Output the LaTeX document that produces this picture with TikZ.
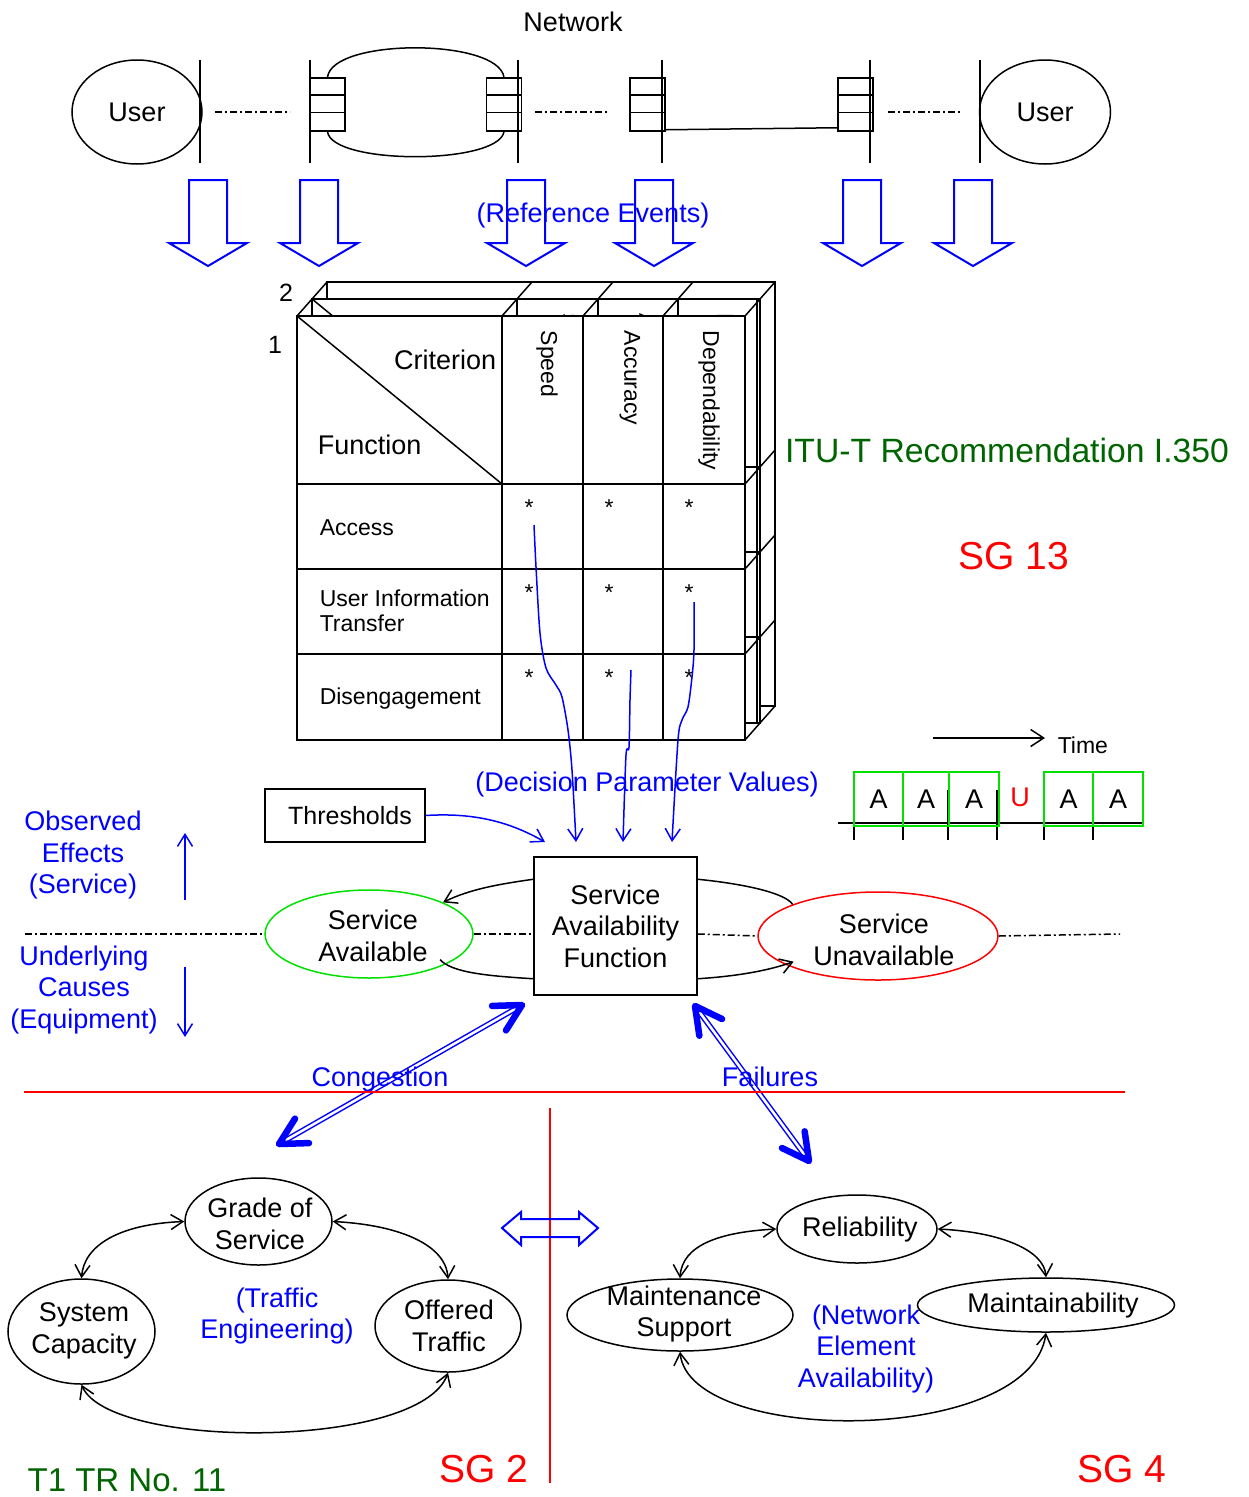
\documentclass[tikz,border=0pt]{standalone}
\usepackage{fontspec}
\setmainfont{Liberation Sans}
\usetikzlibrary{arrows.meta,shapes.geometric,calc}

\definecolor{ublue}{RGB}{0,0,255}
\definecolor{ured}{RGB}{255,0,0}
\definecolor{ugreen}{RGB}{0,225,0}
\definecolor{udkgreen}{RGB}{0,100,0}

\tikzset{
  txt/.style={inner sep=0pt, align=center, font=\fontsize{27}{31.5}\selectfont},
  smalltxt/.style={inner sep=0pt, align=left, font=\fontsize{23}{25}\selectfont},
  bigtxt/.style={inner sep=0pt, font=\fontsize{39}{44}\selectfont},
  ell/.style={ellipse, draw, line width=1.5pt, inner sep=0pt},
  swbox/.style={rectangle, draw, minimum width=35pt, minimum height=53pt, inner sep=0pt},
  dashdotline/.style={line width=1.5pt, dash pattern=on 7pt off 3pt on 2pt off 3pt},
  openarr/.style={-{Straight Barb[length=12pt,width=15pt]}},
  bothopen/.style={{Straight Barb[length=12pt,width=15pt]}-{Straight Barb[length=12pt,width=15pt]}},
  hollowarr/.style={draw=ublue, line width=2pt, line join=miter},
  dblshaft/.style={draw=ublue, line width=1.5pt, double=white, double distance=2.5pt},
  headbarb/.style={draw=ublue, line width=6.5pt, line cap=round, line join=round},
  tabfill/.style={fill=white, draw=black},
}

\begin{document}
\begin{tikzpicture}[x=1pt, y=-1pt, line width=1.5pt]
\fill[white] (0,0) rectangle (1248,1497);
\useasboundingbox (0,0) rectangle (1248,1497);

% ---------------- network at the top ----------------
\node[txt, anchor=base] (net) at (573,31) {Network};
\node[ell, txt, minimum width=130pt, minimum height=104pt] (userL) at (137,112) {User};
\node[ell, txt, minimum width=131pt, minimum height=104pt] (userR) at (1045,112) {User};

\foreach \x in {200,310,518,662,870,980} \draw (\x,60) -- (\x,163);

\node[swbox] (sw1) at (327.5,104.5) {};
\node[swbox] (sw2) at (504,104.5) {};
\node[swbox] (sw3) at (647.5,104.5) {};
\node[swbox] (sw4) at (855.5,104.5) {};
\foreach \s in {sw1,sw2,sw3,sw4} {
  \draw ($(\s.north west)+(0,17.5)$) -- ($(\s.north east)+(0,17.5)$);
  \draw ($(\s.north west)+(0,35)$) -- ($(\s.north east)+(0,35)$);
}
\draw (sw1.north) .. controls (332,38) and (498,38) .. (sw2.north);
\draw (sw1.south) .. controls (332,165) and (498,165) .. (sw2.south);
\draw ($(sw3.south east)+(0,-2)$) -- ($(sw4.south west)+(0,-4)$);

\draw[dashdotline] (215,112) -- (290,112);
\draw[dashdotline] (535,112) -- (608,112);
\draw[dashdotline] (888,112) -- (960,112);

% reference event arrows
\foreach \x in {208,319,526,654,862,973}
  \draw[hollowarr] (\x-19,180) -- (\x+19,180) -- (\x+19,243) -- (\x+39,243) -- (\x,266) -- (\x-39,243) -- (\x-19,243) -- cycle;
\node[txt, anchor=base, text=ublue] (refev) at (593,222) {(Reference Events)};

% ---------------- stacked table ----------------
\filldraw[tabfill] (327,282) rectangle (775,706);
\begin{scope}[shift={(15,-17)}]
  \filldraw[tabfill] (297,316) rectangle (745,740);
  \draw (297,316) -- (502,484);
  \foreach \c in {502,583,663} \draw (\c,316) -- (\c,740);
  \foreach \r in {484,569,654} \draw (297,\r) -- (745,\r);
  \draw (742,316) -- (742,740);
  \node[smalltxt, rotate=-90, anchor=west] (bspeed) at (552,330) {Speed};
  \node[smalltxt, rotate=-90, anchor=west] (bacc) at (630,330) {Accuracy};
  \node[smalltxt, rotate=-90, anchor=west] (bdep) at (708,330) {Dependability};
\end{scope}
\filldraw[tabfill] (297,316) rectangle (745,740);
\draw (297,316) -- (502,484);
\foreach \c in {502,583,663} \draw (\c,316) -- (\c,740);
\foreach \r in {484,569,654} \draw (297,\r) -- (745,\r);
\foreach \x/\y in {297/316,502/316,583/316,663/316,745/316,745/484,745/569,745/654,745/740}
  \draw (\x,\y) -- (\x+30,\y-34);

\node[txt, anchor=base, font=\fontsize{25}{30}\selectfont] (lay2) at (286,301) {2};
\node[txt, anchor=base, font=\fontsize{25}{30}\selectfont] (lay1) at (275,353) {1};
\node[txt, anchor=base east] (crit) at (497,369) {Criterion};
\node[txt, anchor=base west] (func) at (317,454) {Function};
\node[smalltxt, rotate=-90, anchor=west] (hspeed) at (547,330) {Speed};
\node[smalltxt, rotate=-90, anchor=west] (hacc) at (630,330) {Accuracy};
\node[smalltxt, rotate=-90, anchor=west] (hdep) at (709,330) {Dependability};
\node[smalltxt, anchor=base west] (racc) at (319,535) {Access};
\node[smalltxt, anchor=west] (ruit) at (319,611) {User Information\\Transfer};
\node[smalltxt, anchor=base west] (rdis) at (319,704) {Disengagement};
\foreach \r in {515,600,685}
  \foreach \c in {529,609,689}
    \node[smalltxt, anchor=base] (st-\c-\r) at (\c,\r) {*};

\node[inner sep=0pt, font=\fontsize{33.7}{38}\selectfont, text=udkgreen, anchor=base] (itu) at (1007,462) {ITU-T Recommendation I.350};
\node[bigtxt, text=ured, anchor=base] (sg13) at (1014,569) {SG 13};

% ---------------- availability function ----------------
\node[rectangle, draw, minimum width=160pt, minimum height=53pt, inner sep=0pt] (thr) at (345,815.5) {};
\node[inner sep=0pt, font=\fontsize{25}{30}\selectfont] (thrt) at (350,815.5) {Thresholds};
\node[rectangle, draw, minimum width=163pt, minimum height=138pt, txt] (saf) at (615.5,926) {Service\\Availability\\Function};
\node[ell, draw=ugreen, minimum width=208pt, minimum height=88pt] (sa) at (369,934) {};
\node[txt] (sat) at (373,936) {Service\\Available};
\node[ell, draw=ured, minimum width=240pt, minimum height=88pt] (su) at (878,936) {};
\node[txt] (sut) at (884,940) {Service\\Unavailable};

\node[txt, anchor=base, text=ublue] (dpv) at (647,791) {(Decision Parameter Values)};
\coordinate (dp1) at (576,842);
\coordinate (dp2) at (623,842);
\coordinate (dp3) at (672,842);
\draw[ublue, line width=1.5pt, openarr] plot[smooth, tension=0.5] coordinates {(534,525) (536,567) (540,633) (546,668) (556,685) (562,697) (568,730) (572,770) (dp1)};
\draw[ublue, line width=1.5pt, openarr] plot[smooth, tension=0.5] coordinates {(631,670) (630,700) (629,747) (626,755) (dp2)};
\draw[ublue, line width=1.5pt, openarr] plot[smooth, tension=0.5] coordinates {(694,602) (694,650) (692,677) (688,707) (682,720) (678,740) (dp3)};
\draw[ublue, line width=1.5pt, openarr] (thr.east) .. controls (480,812) and (515,825) .. (545,842);

\draw[dashdotline] (25,934) -- (sa.west);
\draw[dashdotline] (sa.east) -- (saf.west |- sa.east);
\draw[dashdotline] (saf.east |- sa.east) -- (su.west);
\draw[dashdotline] (su.east) -- (1120,934);

\draw[openarr] ([yshift=-23pt]saf.north west) .. controls (500,884) and (470,889) .. (sa.north east);
\draw ($(sa.south east)+(-3,-6)$) .. controls (452,973) and (490,976) .. ([yshift=17pt]saf.south west);
\draw ([yshift=-23pt]saf.north east) .. controls (745,884) and (785,893) .. (su.north west);
\draw[openarr] ([yshift=17pt]saf.south east) .. controls (740,976) and (770,970) .. ($(su.south west)+(1,-6)$);

% time line
\coordinate (t0) at (933,738);
\coordinate (t1) at (1045,738);
\draw[-{Straight Barb[length=13pt,width=17pt]}] (t0) -- (t1);
\node[smalltxt, anchor=base west] (time) at (1057,753) {Time};
\draw (838,823) -- (1143,823);
\foreach \x in {854,903,948,997,1044,1093} \draw (\x,790) -- (\x,840);
\foreach \a/\b/\n in {854/903/1,903/949/2,949/999/3,1044/1093/4,1093/1143/5}
  \node[draw=ugreen, line width=2pt, txt, minimum width=\b-\a, minimum height=54pt] (slot\n) at ({(\a+\b)/2},799) {A};
\node[txt, text=ured] (uslot) at (1020,797) {U};

% ---------------- effects / causes ----------------
\node[txt, text=ublue] (obs) at (83,855) {Observed\\Effects\\(Service)};
\node[txt, text=ublue] (und) at (84,990) {Underlying\\Causes\\(Equipment)};
\coordinate (up0) at (185,900);
\coordinate (up1) at (185,833);
\coordinate (dn0) at (185,967);
\coordinate (dn1) at (185,1037);
\draw[ublue, line width=1.5pt, openarr] (up0) -- (up1);
\draw[ublue, line width=1.5pt, openarr] (dn0) -- (dn1);

% congestion and failures
\coordinate (cgU) at (522,1005);
\coordinate (cgL) at (279,1144);
\coordinate (flU) at (695,1006);
\coordinate (flL) at (809,1161);
\draw[dblshaft] ($(cgU)!5pt!(cgL)$) -- ($(cgL)!5pt!(cgU)$);
\draw[dblshaft] ($(flU)!5pt!(flL)$) -- ($(flL)!5pt!(flU)$);
\foreach \p/\q in {cgU/cgL, cgL/cgU, flU/flL, flL/flU}
  \draw[headbarb] ($(\p)!30pt!28:(\q)$) -- (\p) -- ($(\p)!30pt!-28:(\q)$);
\node[txt, anchor=base, text=ublue] (cong) at (380,1086) {Congestion};
\node[txt, anchor=base, text=ublue] (fail) at (770,1086) {Failures};

\draw[ured, line width=1.5pt] (24,1092) -- (1125,1092);
\draw[ured, line width=1.5pt] (550,1108) -- (550,1483);

\draw[hollowarr] (502,1228) -- (521,1212) -- (521,1219) -- (579,1219) -- (579,1212) -- (598,1228) -- (579,1245) -- (579,1237) -- (521,1237) -- (521,1245) -- cycle;

% ---------------- traffic engineering ----------------
\node[ell, minimum width=147pt, minimum height=87pt] (gos) at (258.5,1221.5) {};
\node[txt] (gost) at (260,1224) {Grade of\\Service};
\node[ell, minimum width=147pt, minimum height=105pt] (sc) at (81.5,1331.5) {};
\node[txt] (sct) at (84,1331) {System\\Capacity};
\node[ell, minimum width=146pt, minimum height=92pt] (ot) at (448,1326) {};
\node[txt] (ott) at (449,1326) {Offered\\Traffic};
\node[txt, text=ublue] (te) at (277,1316) {(Traffic\\Engineering)};
\draw[bothopen] (sc.north) .. controls (84,1245) and (120,1224) .. (gos.west);
\draw[bothopen] (gos.east) .. controls (400,1225) and (446,1245) .. (ot.north);
\draw[bothopen] (sc.south) .. controls (110,1450) and (420,1450) .. (ot.south);

% ---------------- network element availability ----------------
\node[ell, minimum width=160pt, minimum height=68pt] (rel) at (857,1229) {};
\node[txt] (relt) at (860,1230) {Reliability};
\node[ell, minimum width=226pt, minimum height=72pt] (ms) at (680,1315) {};
\node[txt] (mst) at (684,1314) {Maintenance\\Support};
\node[ell, minimum width=257pt, minimum height=54pt] (mt) at (1046,1305) {};
\node[txt] (mtt) at (1053,1306) {Maintainability};
\node[txt, text=ublue] (nea) at (866,1349) {(Network\\Element\\Availability)};
\draw[bothopen] (ms.north) .. controls (682,1245) and (720,1232) .. (rel.west);
\draw[bothopen] (rel.east) .. controls (1000,1232) and (1044,1250) .. (mt.north);
\draw[bothopen] (ms.south) .. controls (690,1446) and (1030,1446) .. (mt.south);

% ---------------- study groups ----------------
\node[inner sep=0pt, font=\fontsize{33}{38}\selectfont, text=udkgreen, anchor=base] (t1tr) at (127,1491) {T1 TR No. 11};
\node[bigtxt, text=ured, anchor=base] (sg2) at (484,1482) {SG 2};
\node[bigtxt, text=ured, anchor=base] (sg4) at (1122,1482) {SG 4};
\end{tikzpicture}
\end{document}
